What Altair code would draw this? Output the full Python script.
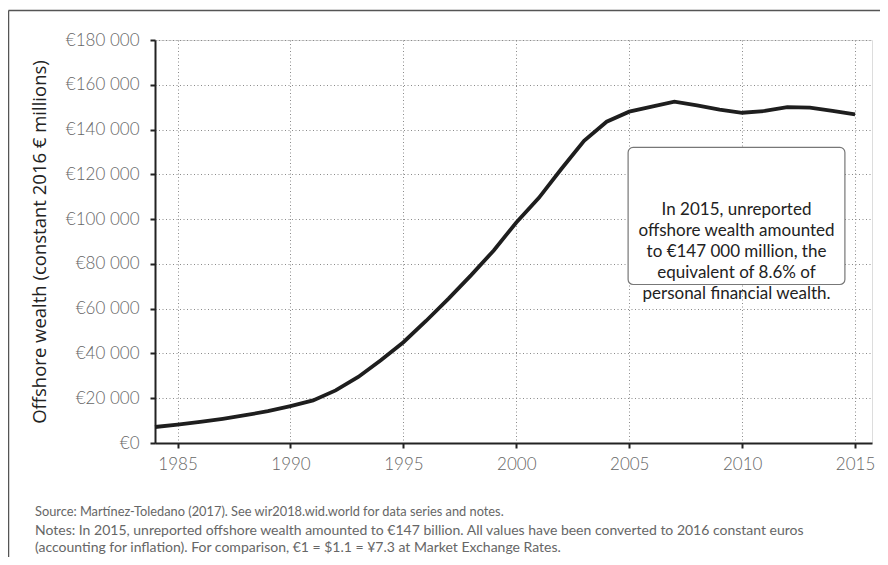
import altair as alt
import pandas as pd

years = list(range(1984, 2016))
wealth = [7150, 8200, 9400, 10800, 12400, 14200, 16500, 19000, 23500, 29500,
          37000, 45000, 54500, 64500, 75000, 86000, 98500, 109500, 122500, 135000,
          143500, 148000, 150200, 152500, 150800, 148900, 147500, 148300, 150000, 149800,
          148300, 146800]

x_ticks = [1985, 1990, 1995, 2000, 2005, 2010, 2015]
y_ticks = [0, 20000, 40000, 60000, 80000, 100000, 120000, 140000, 160000, 180000]

note_lines = ["In 2015, unreported", "offshore wealth amounted",
              "to €147 000 million, the", "equivalent of 8.6% of",
              "personal financial wealth."]
source_line = "Source: Martínez-Toledano (2017). See wir2018.wid.world for data series and notes."
notes_lines = ["Notes: In 2015, unreported offshore wealth amounted to €147 billion. All values have been converted to 2016 constant euros",
               "(accounting for inflation). For comparison, €1 = $1.1 = ¥7.3 at Market Exchange Rates."]

df = pd.DataFrame({"year": years, "wealth": wealth})
FONT = "Lato"

xscale = alt.Scale(domain=[1984, 2015.75], nice=False, zero=False)
yscale = alt.Scale(domain=[0, 180000], nice=False)

base = alt.Chart(df)

line = base.mark_line(color="#1e1e1e", strokeWidth=3.8).encode(
    x=alt.X("year:Q", scale=xscale,
            axis=alt.Axis(values=x_ticks, format="d", title=None, grid=True,
                          gridDash=[1, 2.5], gridColor="#8a8a8a", gridWidth=1,
                          domainColor="#222", domainWidth=2, tickColor="#222",
                          tickWidth=2, tickSize=5, labelFont=FONT, labelFontSize=17,
                          labelColor="#666", labelPadding=8, labelFontWeight=300)),
    y=alt.Y("wealth:Q", scale=yscale,
            axis=alt.Axis(values=y_ticks, title="Offshore wealth (constant 2016 € millions)",
                          labelExpr="datum.value == 0 ? '€0' : '€' + floor(datum.value/1000) + ' 000'",
                          grid=True, gridDash=[1, 2.5], gridColor="#8a8a8a", gridWidth=1,
                          domainColor="#222", domainWidth=2, tickColor="#222",
                          tickWidth=2, tickSize=5, labelFont=FONT, labelFontSize=17,
                          labelColor="#666", labelPadding=11, labelFontWeight=300,
                          titleFont="Open Sans", titleFontSize=18.5, titleFontWeight="normal",
                          titleColor="#222", titlePadding=16)),
)

box_df = pd.DataFrame({"x1": [2004.95], "x2": [2014.55], "y1": [70800], "y2": [132000],
                       "xc": [2009.75], "yc": [103900]})
box = alt.Chart(box_df).mark_rect(fill="white", stroke="#777", strokeWidth=1.2,
                                  cornerRadius=5).encode(
    x=alt.X("x1:Q", scale=xscale), x2="x2:Q",
    y=alt.Y("y1:Q", scale=yscale), y2="y2:Q")

note = alt.Chart(box_df).mark_text(text=note_lines, font=FONT, fontSize=17, color="#222",
                                   lineHeight=21, align="center", baseline="middle").encode(
    x=alt.X("xc:Q", scale=xscale), y=alt.Y("yc:Q", scale=yscale))

one = pd.DataFrame({"t": [0]})
source = alt.Chart(one).mark_text(
    text=source_line, font=FONT, fontSize=12.8, color="#666",
    align="left", baseline="middle").encode(
    x=alt.value(-120), y=alt.value(472))
notes = alt.Chart(one).mark_text(
    text=notes_lines, font=FONT, fontSize=14, color="#666", lineHeight=16.5,
    align="left", baseline="middle").encode(
    x=alt.value(-120), y=alt.value(491))

frame_top = alt.Chart(one).mark_rule(stroke="#555", strokeWidth=1.5).encode(
    x=alt.value(-146.5), x2=alt.value(900), y=alt.value(-29.5))
frame_left = alt.Chart(one).mark_rule(stroke="#555", strokeWidth=1.5).encode(
    x=alt.value(-146.5), y=alt.value(-29.5), y2=alt.value(700))

chart = alt.layer(frame_top, frame_left, line, box, note, source, notes).properties(
    width=717, height=403,
    autosize=alt.AutoSizeParams(type="none"),
    padding={"left": 147, "top": 32, "right": 8, "bottom": 114},
).configure_view(stroke=None).configure(background="white")

chart.save("out.html", embed_options={"renderer": "svg", "actions": False})
